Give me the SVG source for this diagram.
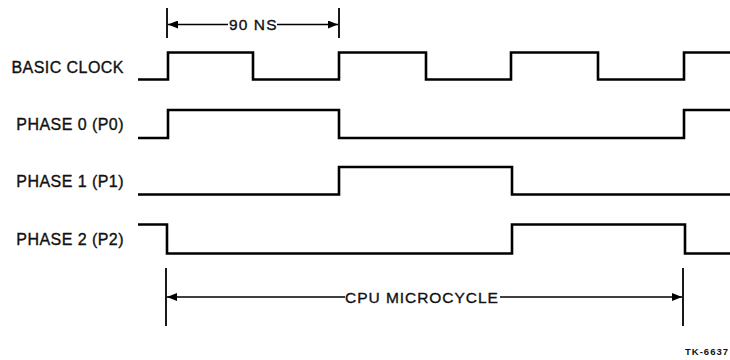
<svg xmlns="http://www.w3.org/2000/svg" width="730" height="360" viewBox="0 0 730 360">
<defs>
<marker id="arr" viewBox="0 0 10 8" refX="10" refY="4" markerWidth="11" markerHeight="8" markerUnits="userSpaceOnUse" orient="auto">
<path d="M0,0 L10,4 L0,8 z" fill="#000"/>
</marker>
</defs>
<style>
.lbl{font-family:"Liberation Sans",Arial,sans-serif;font-size:16px;letter-spacing:0.45px;fill:#111;stroke:#111;stroke-width:0.35;text-anchor:end}
.dim{font-family:"Liberation Sans",Arial,sans-serif;font-size:15.5px;letter-spacing:1.1px;fill:#111;stroke:#111;stroke-width:0.35}
.wave{fill:none;stroke:#000;stroke-width:2.6;stroke-linejoin:miter}
.tick{stroke:#000;stroke-width:1.8}
.dl{stroke:#000;stroke-width:1.6;fill:none;marker-end:url(#arr)}
.tag{font-family:"Liberation Sans",Arial,sans-serif;font-size:9.5px;font-weight:bold;letter-spacing:1px;fill:#111;text-anchor:end}
</style>
<rect width="730" height="360" fill="#fff"/>
<g id="basic-clock">
<text class="lbl" x="124" y="73">BASIC CLOCK</text>
<path class="wave" d="M138,79.5 H168 V52.5 H253 V79.5 H339 V52.5 H426 V79.5 H511 V52.5 H598 V79.5 H684 V52.5 H730"/>
</g>
<g id="phase0">
<text class="lbl" x="124" y="130">PHASE 0 (P0)</text>
<path class="wave" d="M138,138 H168 V110 H339 V138 H684 V110 H730"/>
</g>
<g id="phase1">
<text class="lbl" x="124" y="187">PHASE 1 (P1)</text>
<path class="wave" d="M138,194.5 H339 V167 H512 V194.5 H730"/>
</g>
<g id="phase2">
<text class="lbl" x="124" y="245">PHASE 2 (P2)</text>
<path class="wave" d="M138,224.5 H167 V253.5 H512 V224.5 H685 V253.5 H730"/>
</g>
<g id="dimensions">
<line class="tick" x1="167" y1="8" x2="167" y2="38"/>
<line class="tick" x1="339" y1="8" x2="339" y2="38"/>
<path class="dl" d="M228,24.5 H168"/>
<path class="dl" d="M277,24.5 H338"/>
<text class="dim" x="229" y="29.5">90 NS</text>
<line class="tick" x1="166" y1="268" x2="166" y2="326"/>
<line class="tick" x1="683" y1="268" x2="683" y2="326"/>
<path class="dl" d="M345,297 H167"/>
<path class="dl" d="M500,297 H682"/>
<text class="dim" x="345" y="302.5" textLength="154">CPU MICROCYCLE</text>
</g>
<text class="tag" x="729" y="355">TK-6637</text>
</svg>
